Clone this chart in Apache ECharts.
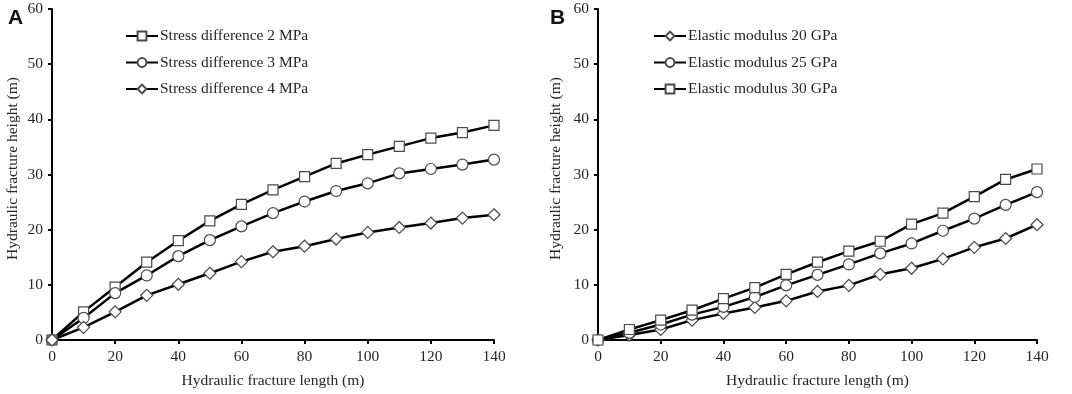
<!DOCTYPE html>
<html>
<head>
<meta charset="utf-8">
<script src="https://cdn.jsdelivr.net/npm/echarts@6/dist/echarts.min.js"></script>
<style>
	html, body { margin: 0; padding: 0; background: #fff; }
	#chart { width: 1072px; height: 394px; }
</style>
</head>
<body>
<div id="chart"></div>
<script>
	var lengths = [0, 10, 20, 30, 40, 50, 60, 70, 80, 90, 100, 110, 120, 130, 140];

	// panel A - stress difference
	var stress2 = [0, 5.1, 9.6, 14.1, 18.0, 21.6, 24.6, 27.2, 29.6, 32.0, 33.6, 35.1, 36.6, 37.6, 38.9];
	var stress3 = [0, 4.0, 8.5, 11.7, 15.2, 18.1, 20.6, 23.0, 25.1, 27.0, 28.4, 30.2, 31.0, 31.8, 32.7];
	var stress4 = [0, 2.3, 5.1, 8.1, 10.1, 12.1, 14.2, 16.0, 17.0, 18.3, 19.5, 20.4, 21.2, 22.1, 22.7];

	// panel B - elastic modulus
	var modulus20 = [0, 0.9, 1.9, 3.6, 4.8, 5.9, 7.1, 8.8, 9.9, 11.9, 13.0, 14.7, 16.8, 18.4, 20.9];
	var modulus25 = [0, 1.3, 2.8, 4.6, 6.0, 7.8, 9.9, 11.8, 13.7, 15.7, 17.5, 19.8, 22.0, 24.5, 26.8];
	var modulus30 = [0, 1.9, 3.6, 5.4, 7.5, 9.5, 11.9, 14.1, 16.1, 17.9, 21.0, 23.0, 26.0, 29.1, 31.0];

	var serif = 'Liberation Serif';
	var textColor = '#262626';

	function pairs(ys){
		var arr = [];
		for(var i = 0; i < lengths.length; i++)
			arr.push([lengths[i], ys[i]]);
		return arr;
	}

	function makeSeries(name, ys, symbol, size, idx){
		return {
			name: name,
			type: 'line',
			xAxisIndex: idx,
			yAxisIndex: idx,
			data: pairs(ys),
			symbol: symbol,
			symbolSize: size,
			showAllSymbol: true,
			lineStyle: { color: '#000', width: 2.5 },
			itemStyle: { color: '#fff', borderColor: '#4a4a4a', borderWidth: 1.2 },
			emphasis: { disabled: true },
			animation: false,
			z: 3
		};
	}

	function xAxis(idx){
		return {
			type: 'value',
			gridIndex: idx,
			min: 0, max: 140, interval: 20,
			name: 'Hydraulic fracture length (m)',
			nameLocation: 'middle',
			nameGap: 33,
			nameTextStyle: { fontFamily: serif, fontSize: 15.5, color: textColor },
			axisLine: { lineStyle: { color: '#000', width: 2 } },
			axisTick: { show: true, inside: false, length: 4, lineStyle: { color: '#000', width: 2 } },
			axisLabel: { fontFamily: serif, fontSize: 15.5, color: textColor, margin: 9 },
			splitLine: { show: false }
		};
	}

	function yAxis(idx, gap){
		return {
			type: 'value',
			gridIndex: idx,
			min: 0, max: 60, interval: 10,
			name: 'Hydraulic fracture height (m)',
			nameLocation: 'middle',
			nameGap: gap,
			nameTextStyle: { fontFamily: serif, fontSize: 15.5, color: textColor, padding: [0, 0, 0, 12] },
			axisLine: { show: true, lineStyle: { color: '#000', width: 2 } },
			axisTick: { show: true, inside: false, length: 4, lineStyle: { color: '#000', width: 2 } },
			axisLabel: { fontFamily: serif, fontSize: 15.5, color: textColor, margin: 9 },
			splitLine: { show: false }
		};
	}

	function legend(left, names){
		return {
			orient: 'vertical',
			left: left,
			top: 23,
			itemWidth: 32,
			itemHeight: 11,
			itemGap: 10.5,
			selectedMode: false,
			data: names,
			textStyle: { fontFamily: serif, fontSize: 15.5, color: textColor, padding: [0, 0, 0, -3] }
		};
	}

	var chart = echarts.init(document.getElementById('chart'), null, { renderer: 'canvas' });
	chart.setOption({
		backgroundColor: '#fff',
		animation: false,
		title: [
			{ text: 'A', left: 3, top: 3, textStyle: { fontFamily: 'Liberation Sans', fontWeight: 'bold', fontSize: 21, color: '#111' } },
			{ text: 'B', left: 545, top: 3, textStyle: { fontFamily: 'Liberation Sans', fontWeight: 'bold', fontSize: 21, color: '#111' } }
		],
		legend: [
			legend(120, ['Stress difference 2 MPa', 'Stress difference 3 MPa', 'Stress difference 4 MPa']),
			legend(648, ['Elastic modulus 20 GPa', 'Elastic modulus 25 GPa', 'Elastic modulus 30 GPa'])
		],
		grid: [
			{ left: 52, right: 578, top: 9, bottom: 53, containLabel: false },
			{ left: 598, right: 35, top: 9, bottom: 53, containLabel: false }
		],
		xAxis: [xAxis(0), xAxis(1)],
		yAxis: [yAxis(0, 31), yAxis(1, 34)],
		series: [
			makeSeries('Stress difference 2 MPa', stress2, 'rect', 10, 0),
			makeSeries('Stress difference 3 MPa', stress3, 'circle', 11, 0),
			makeSeries('Stress difference 4 MPa', stress4, 'diamond', 12, 0),
			makeSeries('Elastic modulus 20 GPa', modulus20, 'diamond', 12, 1),
			makeSeries('Elastic modulus 25 GPa', modulus25, 'circle', 11, 1),
			makeSeries('Elastic modulus 30 GPa', modulus30, 'rect', 10, 1)
		]
	});
</script>
</body>
</html>
